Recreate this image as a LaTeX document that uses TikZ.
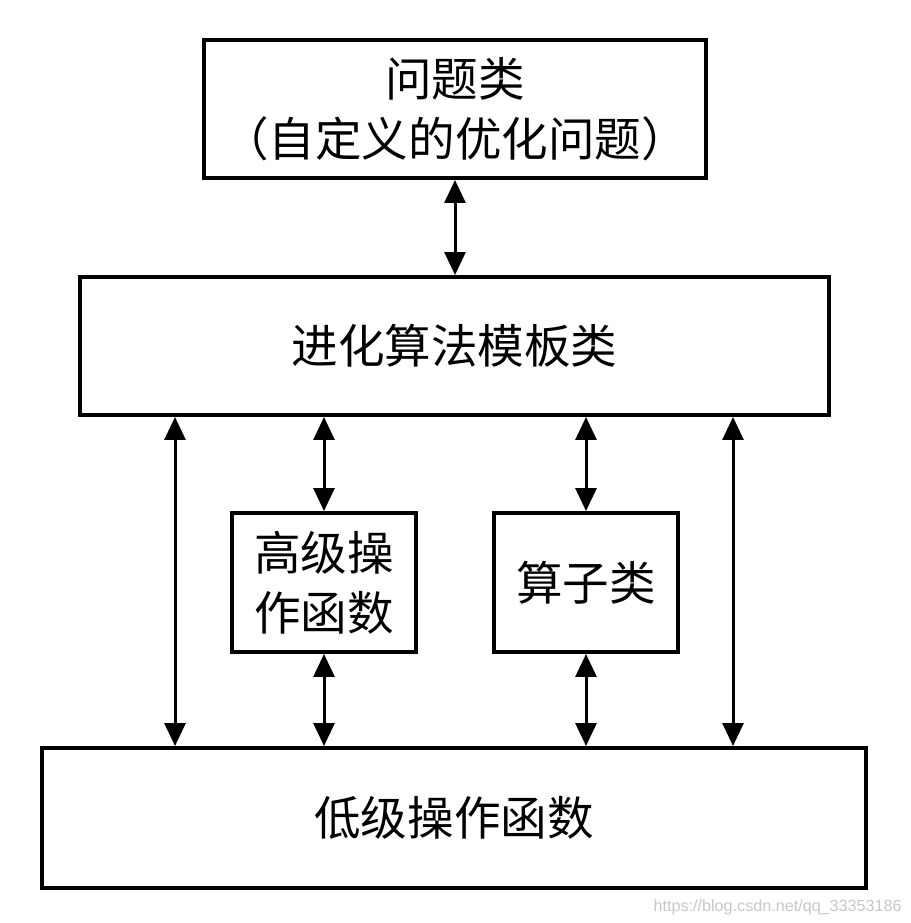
\documentclass[tikz,border=0pt]{standalone}
\usepackage{fontspec}
\newfontfamily\cjk{Noto Sans CJK SC}
\setsansfont{Liberation Sans}
\usetikzlibrary{arrows.meta}

\tikzset{
  box/.style={draw, line width=0.08cm, inner sep=0pt, align=center,
    font=\cjk\fontsize{26.5}{34}\selectfont},
  link/.style={line width=0.06cm, {Triangle[width=0.42cm,length=0.46cm]}-{Triangle[width=0.42cm,length=0.46cm]}}
}

\begin{document}
\begin{tikzpicture}[x=0.02cm,y=-0.02cm]
\useasboundingbox (0,0) rectangle (910,923);
% boxes
\node [box, minimum width=10.04cm, minimum height=2.76cm] (prob) at (455,109) {问题类\\（自定义的优化问题）};
\node [box, minimum width=14.98cm, minimum height=2.76cm] (tmpl) at (454.5,346) {进化算法模板类};
\node [box, minimum width=3.68cm, minimum height=2.78cm] (high) at (324,582.5) {高级操\\作函数};
\node [box, minimum width=3.68cm, minimum height=2.78cm] (oper) at (586,582.5) {算子类};
\node [box, minimum width=16.48cm, minimum height=2.8cm] (low) at (454,818) {低级操作函数};
% outer links
\coordinate (lft) at (175,0);
\coordinate (rgt) at (733,0);
\draw [link] (prob.south) -- (prob.south |- tmpl.north);
\draw [link] (lft |- tmpl.south) -- (lft |- low.north);
\draw [link] (rgt |- tmpl.south) -- (rgt |- low.north);
% links through the small boxes
\draw [link] (high.north |- tmpl.south) -- (high.north);
\draw [link] (high.south) -- (high.south |- low.north);
\draw [link] (oper.north |- tmpl.south) -- (oper.north);
\draw [link] (oper.south) -- (oper.south |- low.north);
% watermark
\node [text=black!22, font=\sffamily\fontsize{9.2}{11}\selectfont, anchor=east, inner sep=0pt] (mark) at (902,907) {https://blog.csdn.net/qq\_33353186};
\end{tikzpicture}
\end{document}
